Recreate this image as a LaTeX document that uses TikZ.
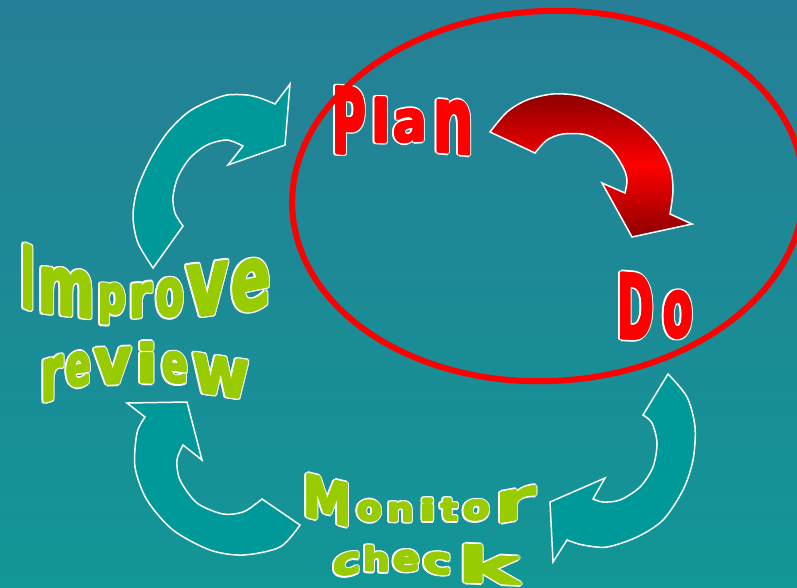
\documentclass[tikz,border=0pt]{standalone}
\usepackage{fontspec}
\usepackage{graphicx}
\newfontfamily\wafont{DejaVu Sans}
\definecolor{bgtop}{RGB}{38,127,150}
\definecolor{bgbot}{RGB}{18,150,150}
\definecolor{arrowteal}{RGB}{0,153,153}
\definecolor{wagreen}{RGB}{153,204,0}
\definecolor{warred}{RGB}{255,0,0}
\definecolor{arrowdark}{RGB}{140,0,0}
\newcommand\wabox[3]{\resizebox*{#2pt}{#3pt}{\wafont\bfseries\fontsize{40}{40}\selectfont #1}}
\def\wapass{0}
% #1 name, #2 letter, #3 colour, #4 left x, #5 right x, #6 top-left y, #7 top-right y, #8 bottom-left y, #9 bottom-right y
\newcommand\wlet[9]{%
  \pgfmathsetmacro\Lw{#5-#4-2.5}%
  \pgfmathsetmacro\Lh{((#8-#6)+(#9-#7))/2-5.4}%
  \pgfmathsetmacro\Lcx{(#4+#5)/2}%
  \pgfmathsetmacro\Lcy{(#6+#7+#8+#9)/4}%
  \pgfmathsetmacro\Lsl{-((#7-#6)+(#9-#8))/2/(#5-#4)}%
  \ifnum\wapass=0
    \foreach \a [count=\k] in {0,30,...,330}{\node[waletter, text=white, yslant=\Lsl] (#1-w\k) at ([shift={(\a:2.7)}]\Lcx,\Lcy) {\wabox{#2}{\Lw}{\Lh}};}%
  \else
    \foreach \a [count=\k] in {0,45,...,315}{\node[waletter, text=#3, yslant=\Lsl] (#1-f\k) at ([shift={(\a:1.1)}]\Lcx,\Lcy) {\wabox{#2}{\Lw}{\Lh}};}%
    \node[waletter, text=#3, yslant=\Lsl] (#1) at (\Lcx,\Lcy) {\wabox{#2}{\Lw}{\Lh}};%
  \fi
}
\newcommand\wawords{%
% Plan
\wlet{planP}{P}{warred}{331}{367}{75}{95}{164}{150}
\wlet{planl}{l}{warred}{370}{392}{94}{97}{146}{144}
\wlet{plana}{a}{warred}{392}{428}{108}{106}{146}{144}
\wlet{plann}{n}{warred}{432}{475}{103}{93}{147}{165}
% Do
\wlet{doD}{D}{warred}{616}{655}{269}{273}{342}{342}
\wlet{doo}{o}{warred}{662}{694}{290}{288}{342}{340}
% Improve
\wlet{impI}{I}{wagreen}{20}{36}{238}{248}{310}{313}
\wlet{impm}{m}{wagreen}{37}{96}{262}{272}{316}{320}
\wlet{impp}{p}{wagreen}{97}{127}{280}{283}{327}{327}
\wlet{impr}{r}{wagreen}{128}{153}{283}{279}{320}{320}
\wlet{impo}{o}{wagreen}{155}{185}{277}{275}{320}{320}
\wlet{impv}{v}{wagreen}{185}{230}{265}{257}{320}{316}
\wlet{impe}{e}{wagreen}{230}{272}{262}{253}{318}{310}
% review
\wlet{revr}{r}{wagreen}{40}{64}{358}{353}{407}{398}
\wlet{reve}{e}{wagreen}{65}{92}{352}{348}{391}{388}
\wlet{revv}{v}{wagreen}{93}{133}{347}{345}{387}{386}
\wlet{revi}{i}{wagreen}{135}{159}{340}{340}{385}{386}
\wlet{reve2}{e}{wagreen}{161}{189}{348}{352}{384}{388}
\wlet{revw}{w}{wagreen}{191}{251}{352}{358}{392}{404}
% Monitor
\wlet{monM}{M}{wagreen}{302}{353}{465}{488}{523}{525}
\wlet{mono}{o}{wagreen}{356}{383}{498}{499}{524}{524}
\wlet{monn}{n}{wagreen}{386}{415}{500}{501}{524}{524}
\wlet{moni}{i}{wagreen}{418}{437}{496}{497}{524}{523}
\wlet{mont}{t}{wagreen}{440}{459}{496}{497}{524}{523}
\wlet{mono2}{o}{wagreen}{462}{491}{499}{497}{524}{522}
\wlet{monr}{r}{wagreen}{493}{537}{495}{480}{523}{522}
% check
\wlet{chkc}{c}{wagreen}{332}{362}{555}{548}{581}{575}
\wlet{chkh}{h}{wagreen}{362}{391}{542}{546}{575}{573}
\wlet{chke}{e}{wagreen}{392}{421}{549}{548}{574}{574}
\wlet{chkc2}{c}{wagreen}{422}{453}{549}{552}{575}{578}
\wlet{chkk}{k}{wagreen}{456}{521}{542}{545}{584}{587}
}
\tikzset{
  waletter/.style={inner sep=0pt, outer sep=0pt, anchor=center},
  tealarrow/.style={fill=arrowteal, draw=white, line width=1.5pt, line join=miter},
  redarrow/.style={top color=arrowdark, bottom color=arrowdark, middle color=warred, draw=white, line width=1.5pt},
  ring/.style={draw=warred, line width=6pt}
}
\begin{document}
\begin{tikzpicture}[x=1pt, y=-1pt]
\useasboundingbox (0,0) rectangle (797,587);
\fill[top color=bgtop, bottom color=bgbot] (0,0) rectangle (797,587);

% top-left arrow
\draw[tealarrow] (153,268) -- (183,226) -- plot[smooth] coordinates {(183,226) (175,213) (173,197) (178,177) (190,158) (207,145) (227,140) (243,146)} -- (228,165) -- (285,145) -- (290,84) -- (275,104) -- plot[smooth] coordinates {(275,104) (260,98) (247,95) (227,95) (207,102) (187,113) (167,133) (150,160) (137,190) (133,217) (138,243) (153,268)} -- cycle;

% bottom-left arrow
\draw[tealarrow] (127,403) -- (187,402) -- (202,460) -- (183,445) -- plot[smooth] coordinates {(183,445) (177,460) (180,480) (197,503) (223,514) (243,512) (257,503) (262,499)} -- (300,525) -- plot[smooth] coordinates {(300,525) (280,547) (243,555) (210,550) (173,530) (147,500) (135,467) (137,433) (145,417)} -- cycle;

% bottom-right arrow
\draw[tealarrow] (668,374) -- (643,415) -- plot[smooth] coordinates {(643,415) (652,423) (657,443) (653,467) (640,487) (620,500) (603,502) (593,499)} -- (605,478) -- (550,502) -- (553,562) -- (567,540) -- plot[smooth] coordinates {(567,540) (583,545) (607,547) (637,537) (663,520) (683,490) (693,460) (695,427) (687,397) (668,374)} -- cycle;

% red arrow
\draw[redarrow] (490,132) -- (535,153) -- plot[smooth] coordinates {(535,153) (547,140) (563,134) (587,135) (610,148) (623,167) (627,180) (625,193)} -- (602,183) -- (632,237) -- (692,224) -- (670,214) -- plot[smooth] coordinates {(670,214) (673,190) (670,167) (657,143) (637,123) (610,107) (580,96) (553,94) (527,100) (507,112) (490,132)} -- cycle;

% word art: white rims first, then the coloured letters
\def\wapass{0}
\wawords
\def\wapass{1}
\wawords

% red ring
\draw[ring] (548,196) ellipse [x radius=256pt, y radius=185pt, rotate=3];
\end{tikzpicture}
\end{document}
